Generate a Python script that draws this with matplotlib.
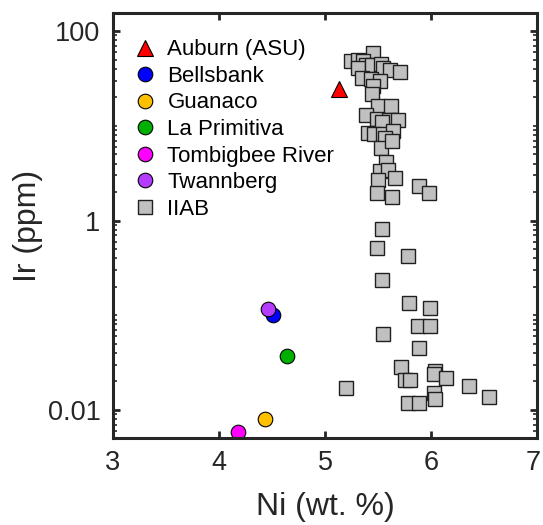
import matplotlib
matplotlib.use("Agg")
import matplotlib.pyplot as plt
import matplotlib.transforms as mtransforms
from matplotlib.ticker import LogLocator, NullFormatter

plt.rcParams['font.family'] = ['Liberation Sans', 'DejaVu Sans']

# meteorite points (Ni wt.%, Ir ppm)
auburn_ni = [5.13]
auburn_ir = [24.5]
bells_ni = [4.51]
bells_ir = [0.100]
guan_ni = [4.43]
guan_ir = [0.0080]
lapri_ni = [4.64]
lapri_ir = [0.037]
tomb_ni = [4.18]
tomb_ir = [0.0059]
twann_ni = [4.46]
twann_ir = [0.115]

# IIAB group
iiab_ni = [5.45, 5.25, 5.31, 5.36, 5.39, 5.31, 5.44, 5.53, 5.55, 5.61,
           5.71, 5.35, 5.43, 5.52, 5.45, 5.44, 5.50, 5.62, 5.39, 5.49,
           5.60, 5.69, 5.54, 5.41, 5.46, 5.55, 5.64, 5.57, 5.53, 5.63,
           5.58, 5.52, 5.59, 5.50, 5.66, 5.49, 5.63, 5.89, 5.98, 5.54,
           5.49, 5.78, 5.54, 5.79, 5.99, 5.55, 5.88, 5.99, 5.89, 5.72,
           5.75, 5.80, 6.04, 6.03, 6.14, 6.36, 6.55, 6.03, 6.04, 5.78,
           5.89, 5.20]
iiab_ir = [59, 48, 49, 48, 44, 41, 44, 45, 41, 38.6,
           37, 32, 31.5, 29.8, 26.4, 21.6, 16.2, 16.2, 13.1, 11.7,
           11.5, 11.5, 11.0, 8.5, 8.2, 8.2, 8.9, 7.5, 5.9, 6.95,
           4.2, 3.36, 3.44, 2.70, 2.79, 1.96, 1.79, 2.33, 1.96, 0.817,
           0.51, 0.42, 0.233, 0.133, 0.12, 0.064, 0.077, 0.077, 0.045, 0.0286,
           0.0207, 0.0207, 0.0258, 0.024, 0.0219, 0.0179, 0.0138, 0.015, 0.0129, 0.0117,
           0.0117, 0.017]

fig = plt.figure(figsize=(5.43, 5.25), dpi=100)
ax = fig.add_axes([0.208, 0.166, 0.781, 0.809])

ax.plot(auburn_ni, auburn_ir, '^', color='#ff0000', mec='k', mew=0.8, ms=11, label='Auburn (ASU)', ls='none')
ax.plot(bells_ni, bells_ir, 'o', color='#0000ff', mec='k', mew=0.8, ms=10.5, label='Bellsbank', ls='none')
ax.plot(guan_ni, guan_ir, 'o', color='#ffc000', mec='k', mew=0.8, ms=10.5, label='Guanaco', ls='none')
ax.plot(lapri_ni, lapri_ir, 'o', color='#00b000', mec='k', mew=0.8, ms=10.5, label='La Primitiva', ls='none')
ax.plot(tomb_ni, tomb_ir, 'o', color='#ff00ff', mec='k', mew=0.8, ms=10.5, label='Tombigbee River', ls='none')
ax.plot(twann_ni, twann_ir, 'o', color='#b43cff', mec='k', mew=0.8, ms=10.5, label='Twannberg', ls='none')
ax.plot(iiab_ni, iiab_ir, 's', color='#c0c0c0', mec='#202020', mew=1.0, ms=9.5, label='IIAB', ls='none')

ax.set_yscale('log')
ax.set_xlim(3, 7)
ax.set_ylim(0.00507, 155)
ax.set_xticks([3, 4, 5, 6, 7])
ax.set_yticks([0.01, 1, 100])
ax.set_yticklabels(['0.01', '1', '100'])
ax.yaxis.set_minor_locator(LogLocator(base=10, subs=range(1, 10), numticks=20))
ax.yaxis.set_minor_formatter(NullFormatter())

ax.tick_params(which='both', direction='in', top=True, right=True,
               labelsize=19.5, color='#262626', labelcolor='#262626', pad=9)
ax.tick_params(which='major', length=5, width=2)
ax.tick_params(which='minor', length=3, width=1.2)
for s in ax.spines.values():
    s.set_linewidth(2.2)
    s.set_color('#262626')

# keep the last x label inside the figure
last = ax.get_xticklabels()[-1]
last.set_transform(last.get_transform() +
                   mtransforms.ScaledTranslation(-4 / 100, 0, fig.dpi_scale_trans))

ax.set_xlabel('Ni (wt. %)', fontsize=23, color='#262626', labelpad=11)
ax.set_ylabel('Ir (ppm)', fontsize=23, color='#262626', labelpad=3)

ax.legend(loc='upper left', frameon=False, fontsize=16, handletextpad=0.25,
          labelspacing=0.25, borderaxespad=0.3, bbox_to_anchor=(0.0, 0.975),
          handlelength=1.5)

fig.savefig('out.png', dpi=100)
